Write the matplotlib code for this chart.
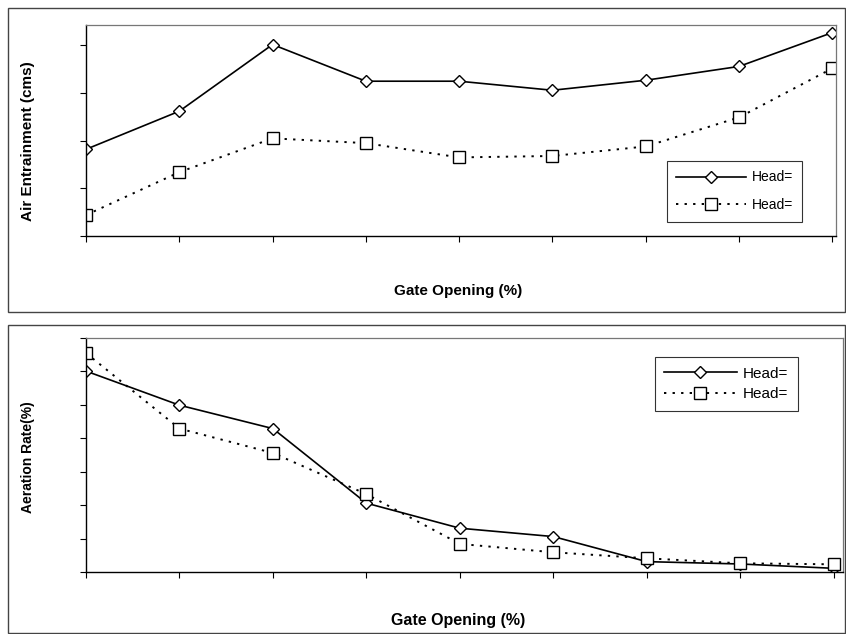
import matplotlib
matplotlib.use("Agg")
from matplotlib import pyplot as plt
from matplotlib.patches import Rectangle

plt.rcParams['font.family'] = ['Liberation Sans', 'DejaVu Sans']

# gate opening categories (no tick labels shown in the original)
gate_idx = list(range(9))

# upper chart: air entrainment
air_head1 = [1.82, 2.62, 4.02, 3.25, 3.25, 3.06, 3.27, 3.56, 4.27]
air_head2 = [0.44, 1.34, 2.05, 1.95, 1.65, 1.68, 1.88, 2.49, 3.52]

# lower chart: aeration rate
rate_head1 = [6.01, 4.99, 4.29, 2.06, 1.31, 1.06, 0.31, 0.24, 0.11]
rate_head2 = [6.55, 4.29, 3.56, 2.33, 0.84, 0.59, 0.41, 0.26, 0.23]

dotted = (0, (1.2, 3.2))

fig = plt.figure(figsize=(8.46, 6.34), dpi=100)

# outer frames round each chart
for y0, h in [(322 / 634, 304 / 634), (1 / 634, 308 / 634)]:
    fig.patches.append(Rectangle((8 / 846, y0), 837 / 846, h, transform=fig.transFigure,
                                 fill=False, edgecolor='#444444', lw=1.0))

ax1 = fig.add_axes([86 / 846, 1 - 236 / 634, 750 / 846, 211 / 634])
ax2 = fig.add_axes([86 / 846, 1 - 572 / 634, 757 / 846, 234 / 634])

def style(ax):
    ax.set_xticks(gate_idx)
    ax.set_xticklabels([])
    ax.set_yticklabels([])
    ax.tick_params(direction='out', length=4, width=0.8, color='black')
    for s in ['top', 'right']:
        ax.spines[s].set_color('#777777')
        ax.spines[s].set_linewidth(0.9)
    for s in ['left', 'bottom']:
        ax.spines[s].set_color('black')
        ax.spines[s].set_linewidth(1.0)

# upper chart
ax1.plot(gate_idx, air_head1, '-', color='black', lw=1.2, marker='D', ms=6,
         mfc='white', mec='black', mew=1.0, label='Head=')
ax1.plot(gate_idx, air_head2, linestyle=dotted, color='black', lw=1.4, marker='s', ms=8,
         mfc='white', mec='black', mew=1.0, label='Head=')
ax1.set_xlim(0, 8.04)
ax1.set_ylim(0, 4.43)
ax1.set_yticks([0, 1, 2, 3, 4])
style(ax1)
leg1 = ax1.legend(loc='upper left', bbox_to_anchor=(0.765, 0.39), frameon=True, fancybox=False,
                  edgecolor='black', fontsize=10, labelspacing=1.0, handlelength=5.0,
                  borderpad=0.7, handletextpad=0.4)
leg1.get_frame().set_linewidth(0.8)

# lower chart
ax2.plot(gate_idx, rate_head1, '-', color='black', lw=1.2, marker='D', ms=6,
         mfc='white', mec='black', mew=1.0, label='Head=')
ax2.plot(gate_idx, rate_head2, linestyle=dotted, color='black', lw=1.4, marker='s', ms=8,
         mfc='white', mec='black', mew=1.0, label='Head=')
ax2.set_xlim(0, 8.1)
ax2.set_ylim(0, 7)
ax2.set_yticks(range(8))
style(ax2)
leg2 = ax2.legend(loc='upper left', bbox_to_anchor=(0.741, 0.95), frameon=True, fancybox=False,
                  edgecolor='black', fontsize=11, labelspacing=0.45, handlelength=4.8,
                  borderpad=0.6, handletextpad=0.4)
leg2.get_frame().set_linewidth(0.8)

# axis titles
fig.text(458 / 846, 1 - 291 / 634, 'Gate Opening (%)', ha='center', va='center',
         fontsize=11, fontweight='bold')
fig.text(28 / 846, 1 - 141 / 634, 'Air Entrainment (cms)', ha='center', va='center',
         rotation=90, fontsize=11, fontweight='bold')
fig.text(458 / 846, 1 - 620 / 634, 'Gate Opening (%)', ha='center', va='center',
         fontsize=11.5, fontweight='bold')
fig.text(28 / 846, 1 - 457 / 634, 'Aeration Rate(%)', ha='center', va='center',
         rotation=90, fontsize=10, fontweight='bold')

fig.savefig('out.png', dpi=100)
